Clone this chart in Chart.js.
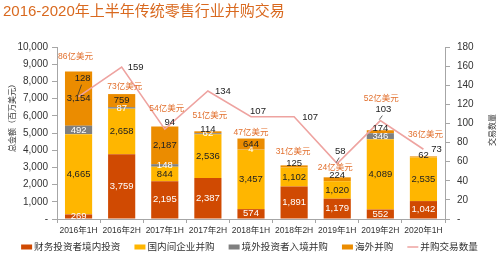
<!DOCTYPE html>
<html lang="zh">
<head>
<meta charset="UTF-8">
<title>2016-2020年上半年传统零售行业并购交易</title>
<script src="https://cdn.jsdelivr.net/npm/chart.js"></script>
<style>
    body { margin: 0; background: #fff; }
    #wrap { position: relative; width: 499px; height: 255px; }
    #title {
        position: absolute; left: 3px; top: 2px;
        font-family: 'Liberation Sans', 'Noto Sans CJK SC', sans-serif;
        font-size: 15px; color: #d9691f; white-space: nowrap; line-height: 18px;
    }
    canvas { position: absolute; left: 0; top: 0; }
</style>
</head>
<body>
<div id="wrap">
    <canvas id="c" width="499" height="255"></canvas>
    <div id="title">2016-2020年上半年传统零售行业并购交易</div>
</div>
<script>
// 数据
const periods = ['2016年1H', '2016年2H', '2017年1H', '2017年2H', '2018年1H', '2018年2H', '2019年1H', '2019年2H', '2020年1H'];
const financialDomestic = [269, 3759, 2195, 2387, 574, 1891, 1179, 552, 1042];   // 财务投资者境内投资
const domesticCorp = [4665, 2658, 844, 2536, 3457, 1102, 1020, 4089, 2535];      // 国内间企业并购
const foreignInbound = [492, 87, 148, 62, 4, 0, 0, 346, 0];                      // 境外投资者入境并购
const overseas = [3154, 759, 2187, 114, 644, 125, 224, 174, 62];                 // 海外并购
const dealCount = [128, 159, 94, 134, 107, 107, 58, 103, 73];                    // 并购交易数量
const totalLabels = ['86亿美元', '73亿美元', '54亿美元', '51亿美元', '47亿美元', '31亿美元', '24亿美元', '52亿美元', '36亿美元'];
const leftTicksMax = 10000, leftStep = 1000;
const rightTicksMax = 180, rightStep = 20;

const FONT = "'Liberation Sans', 'Noto Sans CJK SC', sans-serif";
const RED = '#d04a02', YELLOW = '#ffb600', GRAY = '#7f7f7f', ORANGE = '#eb8c00', LINE = '#eea3a0';
const AXIS = '#a6a6a6';

// label placement tweaks (dx, dy)
const totalOffsets = [[-3, -15], [3, -7], [2, -18], [2, -16], [0, -6], [-1, -14], [-2, -10], [1, -32], [2, -22]];
const countOffsets = [[4, -18], [14, 0], [5, -7], [15, 0], [7, -5], [16, 1], [3, -12], [3, -11], [13, 0]];
const countLeaders = [true, false, false, false, false, false, true, true, false];
const segLabelColors = ['#fff', '#222', '#fff', '#222'];

const legendItems = [
    { text: '财务投资者境内投资', color: RED, type: 'box' },
    { text: '国内间企业并购', color: YELLOW, type: 'box' },
    { text: '境外投资者入境并购', color: GRAY, type: 'box' },
    { text: '海外并购', color: ORANGE, type: 'box' },
    { text: '并购交易数量', color: LINE, type: 'line' }
];

const labelPlugin = {
    id: 'labels',
    afterDatasetsDraw(chart) {
        const ctx = chart.ctx;
        ctx.save();
        ctx.textAlign = 'center';
        ctx.textBaseline = 'middle';
        ctx.font = '9.5px ' + FONT;
        // bar segment values
        for (let d = 0; d < 4; d++) {
            const meta = chart.getDatasetMeta(d);
            meta.data.forEach((bar, i) => {
                const v = chart.data.datasets[d].data[i];
                if (!v) return;
                const top = Math.min(bar.y, bar.base), bot = Math.max(bar.y, bar.base);
                let y = (top + bot) / 2;
                if (d === 3 && bot - top < 8) y = top - 1.5;
                ctx.fillStyle = segLabelColors[d];
                ctx.fillText(v.toLocaleString('en-US'), bar.x, y);
            });
        }
        // totals
        ctx.font = '8.5px ' + FONT;
        ctx.fillStyle = '#e2702e';
        const topMeta = chart.getDatasetMeta(3);
        topMeta.data.forEach((bar, i) => {
            const [dx, dy] = totalOffsets[i];
            ctx.fillText(totalLabels[i], bar.x + dx, bar.y + dy);
        });
        // deal counts
        ctx.font = '9.5px ' + FONT;
        ctx.fillStyle = '#222';
        ctx.strokeStyle = '#333';
        ctx.lineWidth = 0.8;
        const lineMeta = chart.getDatasetMeta(4);
        lineMeta.data.forEach((pt, i) => {
            const [dx, dy] = countOffsets[i];
            ctx.fillText(String(dealCount[i]), pt.x + dx, pt.y + dy);
            if (countLeaders[i]) {
                ctx.beginPath();
                ctx.moveTo(pt.x + dx - 1, pt.y + dy + 6);
                ctx.lineTo(pt.x - 1, pt.y - 1);
                ctx.stroke();
            }
        });
        ctx.restore();
    },
    afterDraw(chart) {
        const ctx = chart.ctx;
        ctx.save();
        // axis titles
        ctx.fillStyle = '#333';
        ctx.font = '8px ' + FONT;
        ctx.textAlign = 'center';
        ctx.textBaseline = 'middle';
        ctx.translate(13, 116);
        ctx.rotate(-Math.PI / 2);
        ctx.fillText('总金额（百万美元）', 0, 0);
        ctx.setTransform(1, 0, 0, 1, 0, 0);
        ctx.translate(493, 130);
        ctx.rotate(-Math.PI / 2);
        ctx.fillText('交易数量', 0, 0);
        ctx.setTransform(1, 0, 0, 1, 0, 0);
        // legend
        ctx.font = '9.6px ' + FONT;
        ctx.textAlign = 'left';
        const boxW = 11, gapIn = 2, gapOut = 14;
        let total = 0;
        legendItems.forEach((it, i) => {
            total += boxW + gapIn + ctx.measureText(it.text).width + (i < legendItems.length - 1 ? gapOut : 0);
        });
        let x = (499 - total) / 2;
        const y = 247;
        legendItems.forEach(it => {
            if (it.type === 'box') {
                ctx.fillStyle = it.color;
                ctx.fillRect(x, y - 2.5, boxW, 5);
            } else {
                ctx.strokeStyle = it.color;
                ctx.lineWidth = 1.5;
                ctx.beginPath();
                ctx.moveTo(x, y);
                ctx.lineTo(x + boxW, y);
                ctx.stroke();
            }
            x += boxW + gapIn;
            ctx.fillStyle = '#333';
            ctx.fillText(it.text, x, y);
            x += ctx.measureText(it.text).width + gapOut;
        });
        ctx.restore();
    }
};

const barCommon = { yAxisID: 'y', barPercentage: 0.63, categoryPercentage: 1, borderWidth: 0, order: 1 };

new Chart(document.getElementById('c'), {
    type: 'bar',
    data: {
        labels: periods,
        datasets: [
            Object.assign({ label: '财务投资者境内投资', data: financialDomestic, backgroundColor: RED }, barCommon),
            Object.assign({ label: '国内间企业并购', data: domesticCorp, backgroundColor: YELLOW }, barCommon),
            Object.assign({ label: '境外投资者入境并购', data: foreignInbound, backgroundColor: GRAY }, barCommon),
            Object.assign({ label: '海外并购', data: overseas, backgroundColor: ORANGE }, barCommon),
            {
                type: 'line', label: '并购交易数量', data: dealCount, yAxisID: 'y1',
                borderColor: LINE, borderWidth: 1.6, pointRadius: 0, tension: 0, order: 0
            }
        ]
    },
    options: {
        responsive: false,
        animation: false,
        layout: { padding: { top: 47, left: 0, right: 0, bottom: 0 } },
        plugins: { legend: { display: false }, tooltip: { enabled: false }, title: { display: false } },
        scales: {
            x: {
                stacked: true,
                grid: { display: true, drawOnChartArea: false, drawTicks: true, tickLength: 4, color: AXIS, offset: true },
                border: { color: AXIS },
                ticks: { color: '#333', font: { size: 8.5, family: FONT }, padding: 3, maxRotation: 0, autoSkip: false },
                afterFit(s) { s.height = 255 - 219; }
            },
            y: {
                stacked: true, position: 'left', min: 0, max: leftTicksMax,
                grid: { drawOnChartArea: false, tickLength: 5, color: AXIS },
                border: { color: AXIS },
                ticks: {
                    stepSize: leftStep, color: '#333', padding: 4, font: { size: 10, family: FONT },
                    callback: v => v === 0 ? '-' : v.toLocaleString('en-US')
                },
                afterFit(s) { s.width = 57; }
            },
            y1: {
                position: 'right', min: 0, max: rightTicksMax,
                grid: { drawOnChartArea: false, tickLength: 5, color: AXIS },
                border: { color: AXIS },
                ticks: {
                    stepSize: rightStep, color: '#333', padding: 7, font: { size: 10, family: FONT },
                    callback: v => v === 0 ? '-' : v
                },
                afterFit(s) { s.width = 54; }
            }
        }
    },
    plugins: [labelPlugin]
});
</script>
</body>
</html>
